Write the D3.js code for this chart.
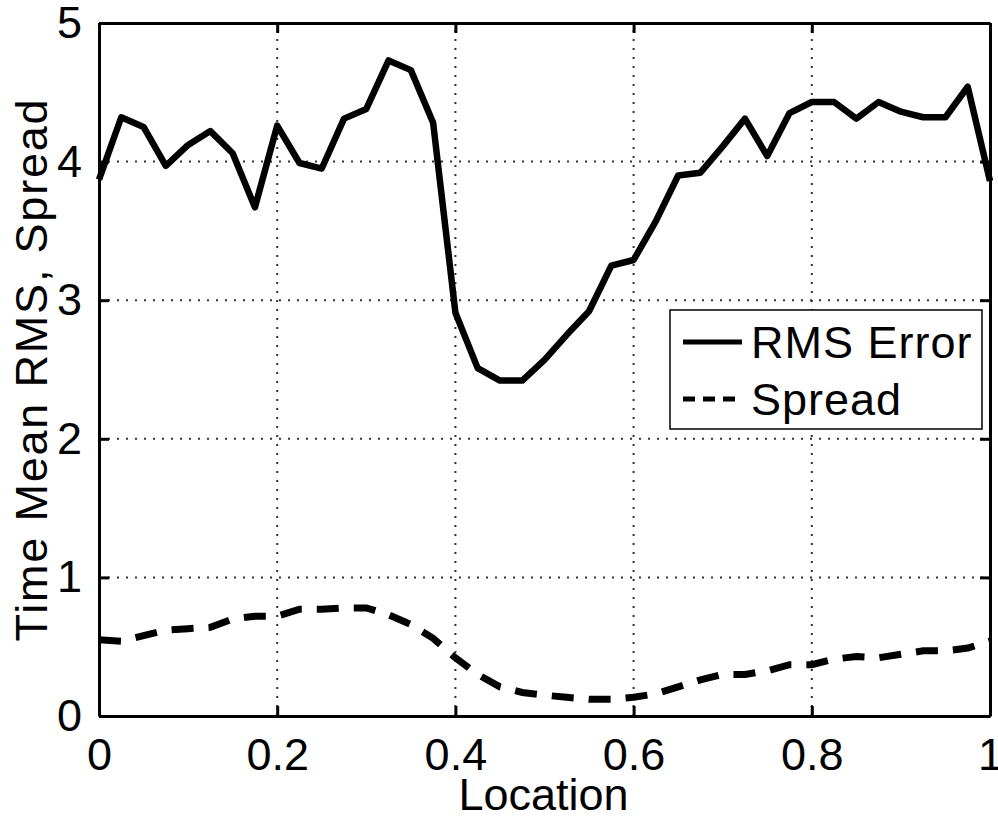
<!DOCTYPE html>
<html>
<head>
<meta charset="utf-8">
<script src="https://cdn.jsdelivr.net/npm/d3@7"></script>
<style>
  html, body { margin: 0; padding: 0; background: #fff; }
  svg { display: block; }
  text { font-family: "Liberation Sans", Arial, Helvetica, sans-serif; fill: #000; }
</style>
</head>
<body>
<svg id="chart" width="998" height="819"></svg>
<script>
// ---- data ----
const locations = d3.range(41).map(i => i / 40);
const rmsError = [3.87, 4.32, 4.25, 3.97, 4.12, 4.22, 4.06, 3.67, 4.26, 3.99,
                  3.95, 4.31, 4.38, 4.73, 4.66, 4.28, 2.91, 2.51, 2.42, 2.42,
                  2.57, 2.75, 2.92, 3.25, 3.29, 3.57, 3.90, 3.92, 4.11, 4.31,
                  4.04, 4.35, 4.43, 4.43, 4.31, 4.43, 4.36, 4.32, 4.32, 4.54, 3.86];
const spread = [0.55, 0.54, 0.58, 0.62, 0.63, 0.64, 0.70, 0.72, 0.72, 0.77,
                0.77, 0.78, 0.78, 0.73, 0.66, 0.56, 0.42, 0.30, 0.21, 0.17,
                0.15, 0.135, 0.12, 0.12, 0.135, 0.16, 0.21, 0.26, 0.30, 0.30,
                0.325, 0.37, 0.37, 0.41, 0.43, 0.42, 0.445, 0.47, 0.47, 0.49, 0.54];
const xTicks = [0, 0.2, 0.4, 0.6, 0.8, 1];
const xTickLabels = ["0", "0.2", "0.4", "0.6", "0.8", "1"];
const yTicks = [0, 1, 2, 3, 4, 5];
const yTickLabels = ["0", "1", "2", "3", "4", "5"];
const seriesNames = ["RMS Error", "Spread"];
const xTitle = "Location";
const yTitle = "Time Mean RMS, Spread";

// ---- layout ----
const PL = 99, PR = 990, PT = 23, PB = 716;
const FS = 45;
const svg = d3.select("#chart");
const x = d3.scaleLinear().domain([0, 1]).range([PL, PR]);
const y = d3.scaleLinear().domain([0, 5]).range([PB, PT]);

// grid
const grid = svg.append("g").attr("stroke", "#333").attr("stroke-width", 2)
  .attr("stroke-dasharray", "2,7");
grid.selectAll("line.gx").data(xTicks.slice(1, -1)).join("line").attr("class", "gx")
  .attr("x1", d => x(d)).attr("x2", d => x(d)).attr("y1", PB).attr("y2", PT);
grid.selectAll("line.gy").data(yTicks.slice(1, -1)).join("line").attr("class", "gy")
  .attr("x1", PL).attr("x2", PR).attr("y1", d => y(d)).attr("y2", d => y(d));

// data lines
const lineGen = (vals) => d3.line().x((d, i) => x(locations[i])).y(d => y(d))(vals);
svg.append("path").attr("d", lineGen(rmsError)).attr("fill", "none")
  .attr("stroke", "#000").attr("stroke-width", 6.5).attr("stroke-linejoin", "round");
svg.append("path").attr("d", lineGen(spread)).attr("fill", "none")
  .attr("stroke", "#000").attr("stroke-width", 7).attr("stroke-dasharray", "22,15");

// axes (box with inward ticks on all sides)
const axB = d3.axisBottom(x).tickValues(xTicks).tickFormat((d, i) => xTickLabels[i])
  .tickSizeInner(-10).tickSizeOuter(0).tickPadding(22);
const axL = d3.axisLeft(y).tickValues(yTicks).tickFormat((d, i) => yTickLabels[i])
  .tickSizeInner(-10).tickSizeOuter(0).tickPadding(17);
const axT = d3.axisTop(x).tickValues(xTicks).tickFormat("").tickSizeInner(-10).tickSizeOuter(0);
const axR = d3.axisRight(y).tickValues(yTicks).tickFormat("").tickSizeInner(-10).tickSizeOuter(0);

function style(g) {
  g.selectAll("path.domain").attr("stroke", "#000").attr("stroke-width", 3);
  g.selectAll(".tick line").attr("stroke", "#000").attr("stroke-width", 3);
  g.selectAll(".tick text").attr("font-size", FS)
    .attr("font-family", "'Liberation Sans', Arial, Helvetica, sans-serif").attr("fill", "#000");
}
svg.append("g").attr("transform", `translate(0,${PB})`).call(axB).call(style);
svg.append("g").attr("transform", `translate(${PL},0)`).call(axL).call(style);
svg.append("g").attr("transform", `translate(0,${PT})`).call(axT).call(style);
svg.append("g").attr("transform", `translate(${PR},0)`).call(axR).call(style);

// axis titles
svg.append("text").attr("x", (PL + PR) / 2 - 1).attr("y", 810)
  .attr("text-anchor", "middle").attr("font-size", FS).text(xTitle);
svg.append("text").attr("transform", `translate(47,${(PT + PB) / 2}) rotate(-90)`)
  .attr("text-anchor", "middle").attr("font-size", FS)
  .attr("letter-spacing", 1.8).text(yTitle);

// legend
const lg = svg.append("g");
lg.append("rect").attr("x", 670).attr("y", 310).attr("width", 312).attr("height", 119)
  .attr("fill", "#fff").attr("stroke", "#000").attr("stroke-width", 1.5);
const legendRows = [
  { name: seriesNames[0], y: 342, dash: null },
  { name: seriesNames[1], y: 399, dash: "12,8" }
];
legendRows.forEach(r => {
  lg.append("line").attr("x1", 683).attr("x2", 742).attr("y1", r.y).attr("y2", r.y)
    .attr("stroke", "#000").attr("stroke-width", 5)
    .attr("stroke-dasharray", r.dash);
  lg.append("text").attr("x", 751).attr("y", r.y + 16).attr("font-size", FS)
    .attr("letter-spacing", 1).text(r.name);
});
</script>
</body>
</html>
